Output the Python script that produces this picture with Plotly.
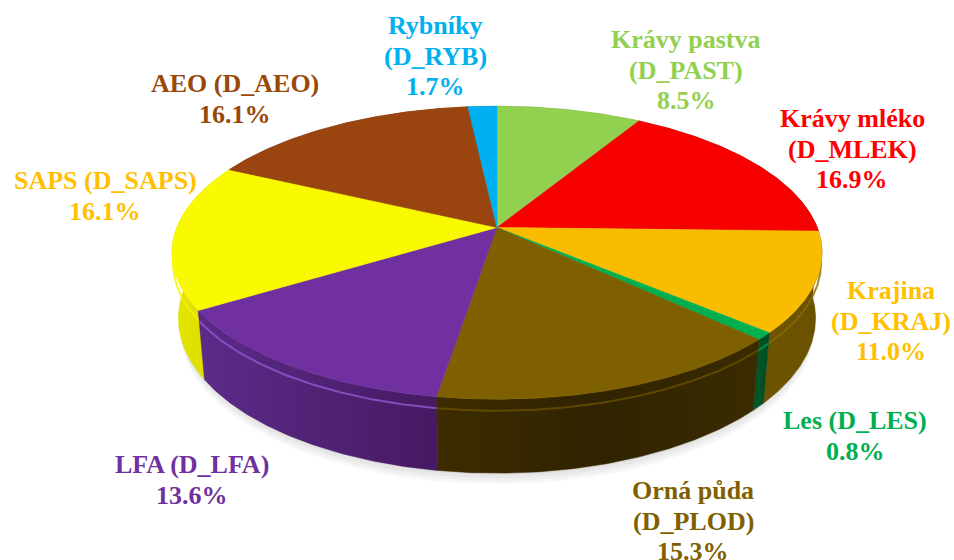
import numpy as np
import plotly.graph_objects as go

# ---------------- data ----------------
names = ["Krávy pastva", "Krávy mléko", "Krajina", "Les", "Orná půda",
         "LFA", "SAPS", "AEO", "Rybníky"]
codes = ["D_PAST", "D_MLEK", "D_KRAJ", "D_LES", "D_PLOD",
         "D_LFA", "D_SAPS", "D_AEO", "D_RYB"]
shares = [8.5, 16.9, 11.0, 0.8, 15.3, 13.6, 16.1, 16.1, 1.7]

# ---------------- styles ----------------
top_colors = ["#92D050", "#F70000", "#F9BC00", "#00B050", "#7F6000",
              "#7030A0", "#F9F900", "#9A4510", "#00B0F0"]
text_colors = ["#92D050", "#FF0000", "#FFC000", "#00B050", "#7F6000",
               "#7030A0", "#FFC000", "#984807", "#00B0F0"]
side_colors = [["#6E9C3C", "#6E9C3C"], ["#A00000", "#8A0000"],
               ["#6E5400", "#6A5100"], ["#005A28", "#004A20"],
               ["#3D2C00", "#302300", "#3A2B00"], ["#5C2B8A", "#451A62"],
               ["#E6E600", "#D8D800"], ["#6A3205", "#6A3205"],
               ["#0080B0", "#0080B0"]]
rim_colors = ["#A8E070", "#FF4040", "#8C6C00", "#00A050", "#6A5000",
              "#9458D0", "#F4F400", "#B0602A", "#40C8FF"]
one_line = [False, False, False, True, False, True, True, True, False]
label_centers = [(686, 70), (852, 149), (891, 321), (855, 436), (693, 521),
                 (192, 480), (105, 196), (235, 99), (435, 56)]
FONT = "Liberation Serif"
FSIZE = 26
LINE_H = 30.5

# ---------------- 3D projection ----------------
CX, CY = 497.0, 227.5
S_T, C_T = 0.444, 0.896      # sin / cos of view elevation
DIST, FOC, HGT = 5.2, 1665.0, 0.23


def proj(theta_deg, r=1.0, h=0.0):
    t = np.radians(theta_deg)
    X = r * np.sin(t)
    Z = r * np.cos(t)
    v = Z * S_T - h * C_T
    w = DIST + Z * C_T + h * S_T
    return CX + FOC * X / w, CY - FOC * v / w


total = sum(shares)
bounds = np.concatenate([[0], np.cumsum(shares)]) / total * 360.0

fig = go.Figure()

# soft shadow under the pie
full = np.linspace(0, 360, 361)
for k, off in enumerate([12, 9, 6, 3]):
    bx, by = proj(full, 0.995, HGT)
    fig.add_trace(go.Scatter(x=bx, y=by + off, fill="toself", mode="lines",
                             line=dict(width=0), fillcolor="rgba(0,0,0,0.03)",
                             hoverinfo="skip", showlegend=False))

# side walls, back to front
order = sorted(range(len(shares)),
               key=lambda i: -np.cos(np.radians((bounds[i] + bounds[i + 1]) / 2)))
for i in order:
    a0, a1 = bounds[i], bounds[i + 1]
    th = np.linspace(a0, a1, max(3, int((a1 - a0) * 2)))
    tx, ty = proj(th, 1.0, 0.0)
    bx, by = proj(th[::-1], 1.0, HGT)
    xs = np.concatenate([tx, bx, tx[:1]])
    ys = np.concatenate([ty, by, ty[:1]])
    cols = side_colors[i]
    cs = [[j / (len(cols) - 1), c] for j, c in enumerate(cols)]
    fig.add_trace(go.Scatter(x=xs, y=ys, fill="toself", mode="lines",
                             line=dict(width=0.5, color=cols[-1]),
                             fillgradient=dict(type="horizontal", colorscale=cs),
                             hoverinfo="skip", showlegend=False))
    # bevel highlight along the front rim
    lo, hi = max(a0, 95.0), min(a1, 265.0)
    if hi > lo:
        th2 = np.linspace(lo, hi, max(3, int((hi - lo) * 2)))
        rx, ry = proj(th2, 1.0, 0.035)
        fig.add_trace(go.Scatter(x=rx, y=ry, mode="lines",
                                 line=dict(width=2, color=rim_colors[i]),
                                 opacity=0.8, hoverinfo="skip", showlegend=False))

# top faces
for i in range(len(shares)):
    a0, a1 = bounds[i], bounds[i + 1]
    th = np.linspace(a0, a1, max(3, int((a1 - a0) * 2)))
    tx, ty = proj(th, 1.0, 0.0)
    xs = np.concatenate([[CX], tx, [CX]])
    ys = np.concatenate([[CY], ty, [CY]])
    fig.add_trace(go.Scatter(x=xs, y=ys, fill="toself", mode="lines",
                             line=dict(width=0.5, color=top_colors[i]),
                             fillcolor=top_colors[i],
                             hoverinfo="skip", showlegend=False))

# labels
for i in range(len(shares)):
    pct = f"{shares[i] / total * 100:.1f}%"
    if one_line[i]:
        lines = [f"{names[i]} ({codes[i]})", pct]
    else:
        lines = [names[i], f"({codes[i]})", pct]
    cx, cy = label_centers[i]
    n = len(lines)
    for j, txt in enumerate(lines):
        fig.add_annotation(x=cx, y=cy + (j - (n - 1) / 2) * LINE_H, text=f"<b>{txt}</b>",
                           showarrow=False, xref="x", yref="y",
                           font=dict(family=FONT, size=FSIZE, color=text_colors[i]))

fig.update_layout(
    width=954, height=560,
    margin=dict(l=0, r=0, t=0, b=0),
    paper_bgcolor="white", plot_bgcolor="white",
    xaxis=dict(range=[0, 954], visible=False, fixedrange=True),
    yaxis=dict(range=[560, 0], visible=False, fixedrange=True),
    showlegend=False,
)

fig.write_html("out.html", config={"displayModeBar": False},
               post_script="document.body.style.margin='0';document.body.style.padding='0';")
